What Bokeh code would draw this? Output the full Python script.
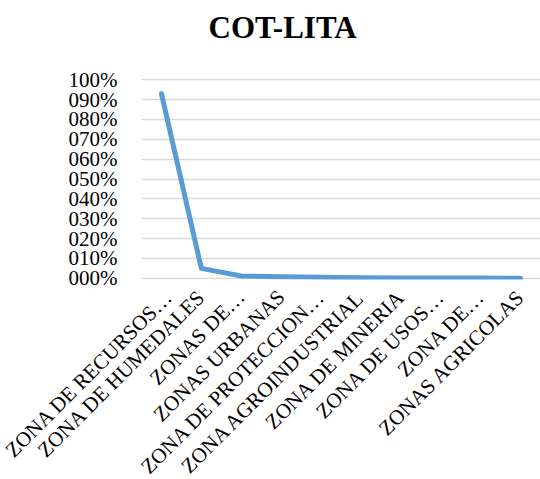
from bokeh.plotting import figure
from bokeh.models import Range1d, FactorRange, FixedTicker, Title
from bokeh.embed import file_html
from bokeh.resources import INLINE
import math

categories = ["ZONA DE RECURSOS…", "ZONA DE HUMEDALES", "ZONAS DE…", "ZONAS URBANAS",
              "ZONA DE PROTECCION…", "ZONA AGROINDUSTRIAL", "ZONA DE MINERIA",
              "ZONA DE USOS…", "ZONA DE…", "ZONAS AGRICOLAS"]
values = [0.93, 0.05, 0.012, 0.008, 0.005, 0.003, 0.002, 0.001, 0.001, 0.0005]
y_ticks = [0.0, 0.1, 0.2, 0.3, 0.4, 0.5, 0.6, 0.7, 0.8, 0.9, 1.0]
y_tick_labels = ["000%", "010%", "020%", "030%", "040%", "050%", "060%", "070%", "080%", "090%", "100%"]

FONT = "Liberation Serif"

p = figure(frame_width=399, frame_height=201, output_backend="svg", toolbar_location=None,
           x_range=FactorRange(*categories, range_padding=0),
           y_range=Range1d(-0.006, 1.006),
           title=None)
p.min_border_left = 141
p.min_border_right = 0
p.min_border_top = 78
p.min_border_bottom = 200
p.outline_line_color = None

# spacer between title and plot area
p.add_layout(Title(text=" ", text_font_size="16px"), "above")
p.add_layout(Title(text="COT-LITA", align="left", offset=67, text_font=FONT,
                   text_font_size="31px", text_font_style="bold", text_color="black"), "above")

p.line(x=categories, y=values, line_color="#5b9bd5", line_width=5,
       line_join="round", line_cap="round")

p.xgrid.grid_line_color = None
p.ygrid.grid_line_color = "#d9d9d9"
p.ygrid.grid_line_width = 1.5
p.yaxis.ticker = FixedTicker(ticks=y_ticks)
p.yaxis.major_label_overrides = {t: l for t, l in zip(y_ticks, y_tick_labels)}
p.yaxis.axis_line_color = None
p.yaxis.major_tick_line_color = None
p.yaxis.minor_tick_line_color = None
p.yaxis.major_label_standoff = 18
p.yaxis.major_label_text_font = FONT
p.yaxis.major_label_text_font_size = "21px"
p.yaxis.major_label_text_color = "black"

p.xaxis.axis_line_color = None
p.xaxis.major_tick_line_color = None
p.xaxis.major_tick_out = 0
p.xaxis.major_label_orientation = math.pi / 4
p.xaxis.major_label_standoff = 14
p.xaxis.major_label_text_font = FONT
p.xaxis.major_label_text_font_size = "21px"
p.xaxis.major_label_text_color = "black"

open("out.html", "w").write(file_html(p, INLINE))
